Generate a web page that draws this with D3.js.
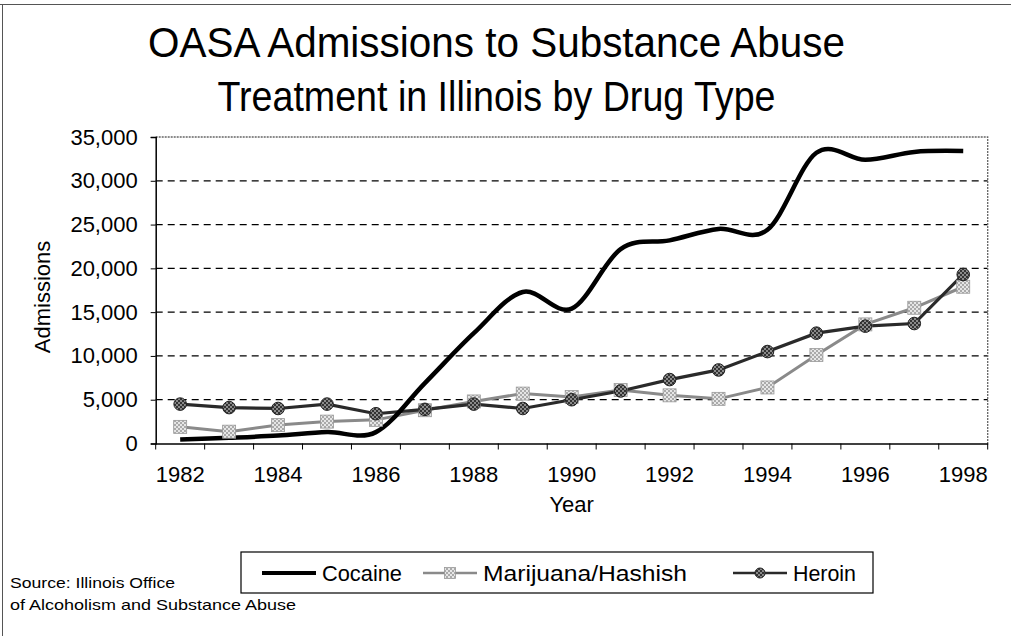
<!DOCTYPE html>
<html>
<head>
<meta charset="utf-8">
<script src="https://cdn.jsdelivr.net/npm/d3@7"></script>
<style>
  html, body { margin: 0; padding: 0; background: #fff; }
  svg { display: block; font-family: "Liberation Sans", Arial, sans-serif; }
</style>
</head>
<body>
<svg id="chart" width="1011" height="636"></svg>
<script>
// ---- data ----
const years = [1982,1983,1984,1985,1986,1987,1988,1989,1990,1991,1992,1993,1994,1995,1996,1997,1998];
const cocaine = [450,650,900,1300,1300,6900,12600,17300,15400,22200,23200,24500,24400,33200,32400,33300,33400];
const marijuana = [1900,1350,2100,2500,2700,3800,4800,5700,5300,6100,5500,5100,6400,10100,13600,15500,17900];
const heroin = [4500,4100,4000,4500,3400,3900,4500,4000,5000,6000,7300,8400,10500,12600,13400,13700,19300];
const seriesNames = ["Cocaine", "Marijuana/Hashish", "Heroin"];
const yTicks = [0,5000,10000,15000,20000,25000,30000,35000];
const xTickLabels = [1982,1984,1986,1988,1990,1992,1994,1996,1998];
const titleLines = ["OASA Admissions to Substance Abuse", "Treatment in Illinois by Drug Type"];
const sourceLines = ["Source: Illinois Office", "of Alcoholism and Substance Abuse"];

const svg = d3.select("#chart");
const L = 155.7, R = 987.7, T = 137, B = 443.5;

// patterns
const defs = svg.append("defs");
function checker(id, a, b) {
  const p = defs.append("pattern").attr("id", id).attr("width", 4).attr("height", 4)
    .attr("patternUnits", "userSpaceOnUse");
  p.append("rect").attr("width", 4).attr("height", 4).attr("fill", a);
  p.append("rect").attr("width", 2).attr("height", 2).attr("fill", b);
  p.append("rect").attr("x", 2).attr("y", 2).attr("width", 2).attr("height", 2).attr("fill", b);
}
checker("pHer", "#333", "#8a8a8a");
checker("pMar", "#aaa", "#e6e6e6");

// outer frame (left and top)
svg.append("line").attr("x1", 2.5).attr("x2", 2.5).attr("y1", 4).attr("y2", 636).attr("stroke", "#555").attr("stroke-width", 1);
svg.append("line").attr("x1", 0).attr("x2", 1011).attr("y1", 4.5).attr("y2", 4.5).attr("stroke", "#555").attr("stroke-width", 1);

// title
titleLines.forEach((t, i) => {
  svg.append("text").attr("x", 496.5).attr("y", 57 + i * 54)
    .attr("text-anchor", "middle").attr("font-size", 42)
    .attr("textLength", i === 0 ? 697 : 558).attr("lengthAdjust", "spacingAndGlyphs")
    .attr("fill", "#000").text(t);
});

const x = d3.scaleBand().domain(years).range([L, R]).padding(0);
const cx = d => x(d) + x.bandwidth() / 2;
const y = d3.scaleLinear().domain([0, 35000]).range([B, T]);

// gridlines
svg.append("g").selectAll("line").data(yTicks.filter(v => v > 0 && v < 35000)).join("line")
  .attr("x1", L).attr("x2", R).attr("y1", d => y(d)).attr("y2", d => y(d))
  .attr("stroke", "#000").attr("stroke-width", 1.2).attr("stroke-dasharray", "7,5");

// plot border top/right (dotted gray)
svg.append("path").attr("d", `M${L},${T}H${R}V${B}`).attr("fill", "none")
  .attr("stroke", "#666").attr("stroke-width", 1.3).attr("stroke-dasharray", "2,1");

// y axis
const yAxis = svg.append("g").attr("transform", `translate(${L},0)`)
  .call(d3.axisLeft(y).tickValues(yTicks).tickSize(5).tickPadding(13).tickFormat(d3.format(",")));
yAxis.select(".domain").attr("stroke", "#000").attr("stroke-width", 1.5);
yAxis.selectAll("text").attr("font-size", 22).attr("fill", "#000").attr("font-family", "Liberation Sans, Arial, sans-serif");
yAxis.selectAll(".tick line").attr("stroke", "#000");

// x axis
const xAxis = svg.append("g").attr("transform", `translate(0,${B})`)
  .call(d3.axisBottom(x).tickValues(xTickLabels).tickSize(0).tickPadding(23));
xAxis.select(".domain").attr("stroke", "#000").attr("stroke-width", 1.5);
xAxis.selectAll("text").attr("font-size", 22).attr("fill", "#000").attr("font-family", "Liberation Sans, Arial, sans-serif");
const bounds = years.map(d => x(d)).concat([x.range()[1]]);
svg.append("g").selectAll("line").data(bounds).join("line")
  .attr("x1", d => d).attr("x2", d => d).attr("y1", B).attr("y2", B + 6)
  .attr("stroke", "#000").attr("stroke-width", 1);

// axis titles
svg.append("text").attr("x", (L + R) / 2).attr("y", 512).attr("text-anchor", "middle")
  .attr("font-size", 22).text("Year");
svg.append("text").attr("transform", "translate(50,297) rotate(-90)").attr("text-anchor", "middle")
  .attr("font-size", 22).text("Admissions");

// lines
const lineSmooth = d3.line().x((d, i) => cx(years[i])).y(d => y(d)).curve(d3.curveCardinal.tension(0));
const lineStraight = d3.line().x((d, i) => cx(years[i])).y(d => y(d));

svg.append("path").attr("d", lineStraight(marijuana)).attr("fill", "none")
  .attr("stroke", "#8a8a8a").attr("stroke-width", 3);
svg.append("path").attr("d", lineStraight(heroin)).attr("fill", "none")
  .attr("stroke", "#2a2a2a").attr("stroke-width", 3.2);
svg.append("path").attr("d", lineSmooth(cocaine)).attr("fill", "none")
  .attr("stroke", "#000").attr("stroke-width", 4.5).attr("stroke-linejoin", "round");

// markers
svg.append("g").selectAll("rect").data(marijuana).join("rect")
  .attr("x", (d, i) => cx(years[i]) - 6.5).attr("y", d => y(d) - 6.5)
  .attr("width", 13).attr("height", 13).attr("fill", "url(#pMar)").attr("stroke", "#999").attr("stroke-width", 0.8);
svg.append("g").selectAll("circle").data(heroin).join("circle")
  .attr("cx", (d, i) => cx(years[i])).attr("cy", d => y(d)).attr("r", 6.3)
  .attr("fill", "url(#pHer)").attr("stroke", "#222").attr("stroke-width", 1);

// legend
const lg = svg.append("g");
lg.append("rect").attr("x", 241).attr("y", 552).attr("width", 632).attr("height", 41)
  .attr("fill", "#fff").attr("stroke", "#000").attr("stroke-width", 1.2);
const legX = [262, 423, 733];
const legLen = [80, 204, 63];
seriesNames.forEach((name, i) => {
  const x0 = legX[i], yy = 573;
  const g = lg.append("g");
  if (i === 0) {
    g.append("line").attr("x1", x0).attr("x2", x0 + 54).attr("y1", yy).attr("y2", yy)
      .attr("stroke", "#000").attr("stroke-width", 4);
  } else if (i === 1) {
    g.append("line").attr("x1", x0).attr("x2", x0 + 54).attr("y1", yy).attr("y2", yy)
      .attr("stroke", "#8a8a8a").attr("stroke-width", 2.5);
    g.append("rect").attr("x", x0 + 27 - 5.5).attr("y", yy - 5.5).attr("width", 11).attr("height", 11)
      .attr("fill", "url(#pMar)").attr("stroke", "#999").attr("stroke-width", 0.8);
  } else {
    g.append("line").attr("x1", x0).attr("x2", x0 + 54).attr("y1", yy).attr("y2", yy)
      .attr("stroke", "#2a2a2a").attr("stroke-width", 2.5);
    g.append("circle").attr("cx", x0 + 27).attr("cy", yy).attr("r", 5)
      .attr("fill", "url(#pHer)").attr("stroke", "#222").attr("stroke-width", 1);
  }
  g.append("text").attr("x", x0 + 60).attr("y", yy + 8).attr("font-size", 22)
    .attr("textLength", legLen[i]).attr("lengthAdjust", "spacingAndGlyphs").text(name);
});

// source
sourceLines.forEach((t, i) => {
  svg.append("text").attr("x", 10).attr("y", 588 + i * 22).attr("font-size", 15)
    .attr("textLength", i === 0 ? 165 : 286).attr("lengthAdjust", "spacingAndGlyphs").text(t);
});
</script>
</body>
</html>
